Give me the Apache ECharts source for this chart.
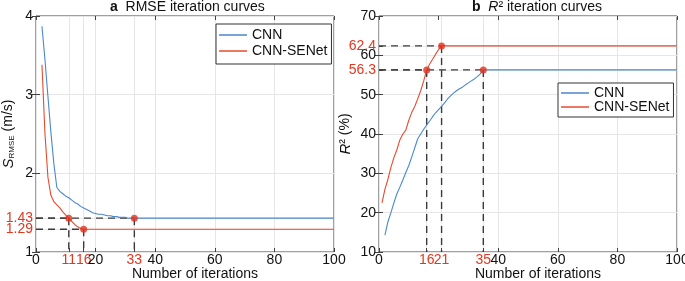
<!DOCTYPE html>
<html><head><meta charset="utf-8">
<script src="https://cdn.jsdelivr.net/npm/echarts@6/dist/echarts.min.js"></script>
<style>html,body{margin:0;padding:0;background:#fff}#c{width:685px;height:281px}</style>
</head><body><div id="c"></div>
<script>
// ---- Panel a: RMSE ----
const rmseIterCNN   = [2,3,4,5,6,7,8,9,10,11,12,13,14,15,16,17,18,19,20,21,22,23,24,25,26,27,28,29,30,31,32,33,100];
const rmseCNN       = [3.87,3.45,2.98,2.52,2.12,1.82,1.77,1.74,1.71,1.69,1.66,1.63,1.61,1.58,1.56,1.54,1.52,1.50,1.49,1.48,1.48,1.47,1.46,1.46,1.45,1.45,1.44,1.44,1.44,1.43,1.43,1.43,1.43];
const rmseIterSE    = [2,3,4,5,6,7,8,9,10,11,12,13,14,15,16,100];
const rmseSE        = [3.38,2.51,1.95,1.72,1.64,1.60,1.56,1.51,1.47,1.43,1.39,1.35,1.32,1.30,1.29,1.29];
const rmseMarkX     = [11,16,33];
const rmseMarkY     = [1.43,1.29,1.43];
const rmseXTicks    = [0,11,16,20,33,40,60,80,100];
const rmseYTicks    = [1,1.29,1.43,2,3,4];

// ---- Panel b: R2 ----
const r2IterCNN = [2,3,4,5,6,7,8,9,10,11,12,13,14,15,16,17,18,19,20,21,22,23,24,25,26,27,28,29,30,31,32,33,34,35,100];
const r2CNN     = [14.3,17.7,20,22.5,24.8,26.5,28.3,30.2,32,34.2,36.5,38.8,40,41.2,42.3,43.3,44.4,45.4,46.2,47,47.9,48.9,49.7,50.4,51.0,51.5,51.9,52.5,53.0,53.5,54.0,54.6,55.3,56.3,56.3];
const r2IterSE  = [1,2,3,4,5,6,7,8,9,10,11,12,13,14,15,16,17,18,19,20,21,100];
const r2SE      = [22.5,26,28.5,31.5,34,36,38.5,40,41,43.5,45.5,47,49,51,53.5,56.3,57.8,59,60.3,61.5,62.4,62.4];
const r2MarkX   = [16,21,35];
const r2MarkY   = [56.3,62.4,56.3];
const r2XTicks  = [0,16,21,35,40,60,80,100];
const r2YTicks  = [10,20,30,40,50,56.3,60,62.4,70];

const seriesNames = ['CNN','CNN-SENet'];
const highlightX = [[11,16,33],[16,21,35]];
const highlightY = [[1.29,1.43],[56.3,62.4]];

const BLUE = '#4a87cc', RED = '#e64a2e', REDTXT = '#e5361f', AX = '#404040';
const FONT = 'Liberation Sans, Arial, sans-serif';

const zip = (a,b) => a.map((v,i)=>[v,b[i]]);
function fmt(list){ return v => list.some(h=>Math.abs(h-v)<1e-9) ? '{r|'+v+'}' : '{k|'+v+'}'; }
const rich = { r:{color:REDTXT,fontSize:14,fontFamily:FONT}, k:{color:'#111',fontSize:14,fontFamily:FONT} };

function xAxisMain(g, ticks, hl){
  return {gridIndex:g, type:'value', min:0, max:100, interval:20, position:'bottom',
    name:'Number of iterations', nameLocation:'middle', nameGap:15, nameMoveOverlap:false,
    nameTextStyle:{fontSize:14,color:'#111',fontFamily:FONT,padding:[0,0,0,20]},
    axisLine:{show:false},
    axisTick:{show:true,inside:true,length:4,lineStyle:{color:AX},customValues:ticks},
    axisLabel:{margin:1,customValues:ticks,formatter:fmt(hl),rich:rich},
    splitLine:{show:true,lineStyle:{color:'#e6e6e6',width:1}}};
}
function xAxisTop(g){
  return {gridIndex:g, type:'value', min:0, max:100, interval:20, position:'top',
    axisLine:{show:false}, axisLabel:{show:false}, splitLine:{show:false},
    axisTick:{show:true,inside:true,length:4,lineStyle:{color:AX}}};
}
function yAxisMain(g, min, max, interval, ticks, hl, name, gap){
  return {gridIndex:g, type:'value', min:min, max:max, interval:interval, position:'left',
    name:name, nameLocation:'middle', nameGap:gap, nameRotate:90, nameMoveOverlap:false,
    nameTextStyle:{fontSize:14,color:'#111',fontFamily:FONT,
      rich:{i:{fontStyle:'italic',fontSize:15,fontFamily:FONT,color:'#111'},
            s:{fontSize:8,fontFamily:FONT,color:'#111',verticalAlign:'bottom',lineHeight:14},
            n:{fontSize:14,fontFamily:FONT,color:'#111'}}},
    axisLine:{show:false},
    axisTick:{show:true,inside:true,length:4,lineStyle:{color:AX},customValues:ticks},
    axisLabel:{margin:3,customValues:ticks,formatter:fmt(hl),rich:rich},
    splitLine:{show:true,lineStyle:{color:'#e6e6e6',width:1}}};
}
function yAxisRight(g, min, max, interval){
  return {gridIndex:g, type:'value', min:min, max:max, interval:interval, position:'right',
    axisLine:{show:false}, axisLabel:{show:false}, splitLine:{show:false},
    axisTick:{show:true,inside:true,length:4,lineStyle:{color:AX}}};
}

function dashSeries(axIdx, mx, my, ymin){
  const out = [];
  mx.forEach((x,i)=>{
    out.push({type:'line', name:'guide', xAxisIndex:axIdx, yAxisIndex:axIdx, symbol:'none', silent:true, z:2,
      lineStyle:{color:'#3a3a3a',width:1.4,type:[7,5]}, data:[[0,my[i]],[x,my[i]]]});
    out.push({type:'line', name:'guide', xAxisIndex:axIdx, yAxisIndex:axIdx, symbol:'none', silent:true, z:2,
      lineStyle:{color:'#3a3a3a',width:1.4,type:[7,5]}, data:[[x,my[i]],[x,ymin]]});
  });
  return out;
}
function curve(axIdx, name, xs, ys, color){
  return {type:'line', name:name, xAxisIndex:axIdx, yAxisIndex:axIdx, symbol:'none', showSymbol:false, z:3,
    lineStyle:{color:color,width:1.1}, itemStyle:{color:color}, data:zip(xs,ys)};
}
function dots(axIdx, mx, my){
  return {type:'scatter', name:'key', xAxisIndex:axIdx, yAxisIndex:axIdx, symbol:'circle', symbolSize:7, z:5,
    itemStyle:{color:'#e2321f'}, data:zip(mx,my)};
}
function legend(left, top, gap, pad){
  return {data:seriesNames, orient:'vertical', left:left, top:top, icon:'rect', itemWidth:28, itemHeight:1.5, itemGap:gap,
     padding:pad, borderColor:'#333', borderWidth:1, backgroundColor:'#fff', borderRadius:0,
     textStyle:{fontSize:14,color:'#111',fontFamily:FONT}};
}

const chart = echarts.init(document.getElementById('c'), null, {renderer:'canvas'});
chart.setOption({
  animation:false,
  textStyle:{fontFamily:FONT},
  title:[
    {text:'{b|a}  RMSE iteration curves', left:110, top:0, padding:0,
     textStyle:{fontSize:14,fontWeight:'normal',color:'#111',fontFamily:FONT,
       rich:{b:{fontWeight:'bold',fontSize:14,color:'#111',fontFamily:FONT}}}},
    {text:'{b|b}  {i|R}² iteration curves', left:472, top:0, padding:0,
     textStyle:{fontSize:14,fontWeight:'normal',color:'#111',fontFamily:FONT,
       rich:{b:{fontWeight:'bold',fontSize:14,color:'#111',fontFamily:FONT},
             i:{fontStyle:'italic',fontSize:14,color:'#111',fontFamily:FONT}}}}
  ],
  legend:[ legend(216, 24, 2, [4,4,6,3]), legend(558, 83, 0, [3,4,3,3]) ],
  grid:[
    {left:36, right:351, top:16, bottom:29, show:true, borderColor:AX, borderWidth:1, outerBoundsMode:'none'},
    {left:379, right:8, top:16, bottom:29, show:true, borderColor:AX, borderWidth:1, outerBoundsMode:'none'}
  ],
  xAxis:[ xAxisMain(0, rmseXTicks, highlightX[0]), xAxisMain(1, r2XTicks, highlightX[1]), xAxisTop(0), xAxisTop(1) ],
  yAxis:[ yAxisMain(0, 1, 4, 1, rmseYTicks, highlightY[0], '{i|S}{s|RMSE}{n| (m/s)}', 20),
          yAxisMain(1, 10, 70, 10, r2YTicks, highlightY[1], '{i|R}{n|² (%)}', 26),
          yAxisRight(0, 1, 4, 1), yAxisRight(1, 10, 70, 10) ],
  series:[
    ...dashSeries(0, rmseMarkX, rmseMarkY, 1),
    ...dashSeries(1, r2MarkX, r2MarkY, 10),
    curve(0, 'CNN', rmseIterCNN, rmseCNN, BLUE),
    curve(0, 'CNN-SENet', rmseIterSE, rmseSE, RED),
    curve(1, 'CNN', r2IterCNN, r2CNN, BLUE),
    curve(1, 'CNN-SENet', r2IterSE, r2SE, RED),
    dots(0, rmseMarkX, rmseMarkY),
    dots(1, r2MarkX, r2MarkY)
  ]
});
</script></body></html>
